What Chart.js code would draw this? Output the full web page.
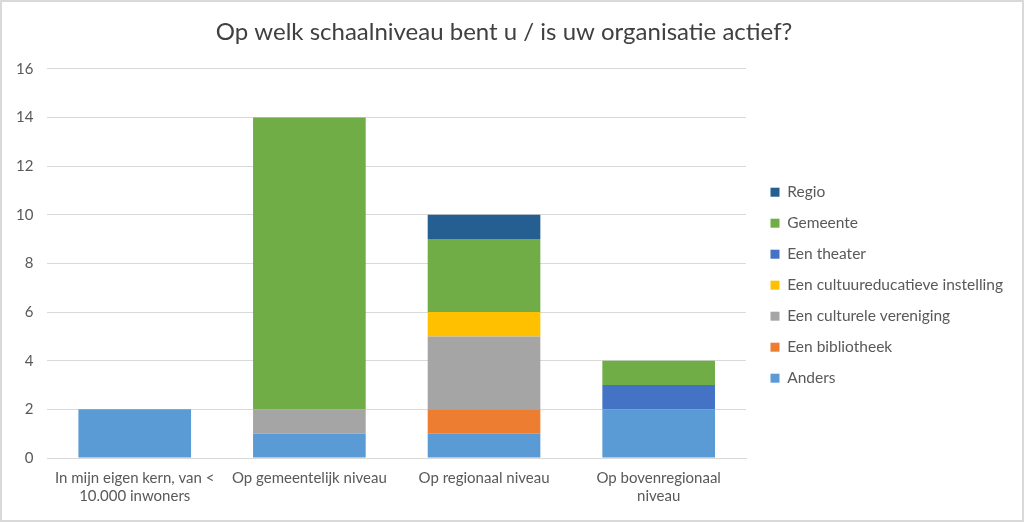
<!DOCTYPE html>
<html>
<head>
<meta charset="utf-8">
<script src="https://cdn.jsdelivr.net/npm/chart.js@4"></script>
<style>
  html, body { margin: 0; padding: 0; background: #fff; }
  #wrap { width: 1020px; height: 518px; border: 2px solid #d9d9d9; background: #fff; }
</style>
</head>
<body>
<div id="wrap"><canvas id="chart" width="1020" height="518"></canvas></div>
<script>
const categories = [
  ["In mijn eigen kern, van <", "10.000 inwoners"],
  "Op gemeentelijk niveau",
  "Op regionaal niveau",
  ["Op bovenregionaal", "niveau"]
];

const anders = [2, 1, 1, 2];
const bibliotheek = [0, 0, 1, 0];
const vereniging = [0, 1, 3, 0];
const cultuureducatief = [0, 0, 1, 0];
const theater = [0, 0, 0, 1];
const gemeente = [0, 12, 3, 1];
const regio = [0, 0, 1, 0];

const yTicks = [0, 2, 4, 6, 8, 10, 12, 14, 16];

const font = "Lato, 'Open Sans', sans-serif";
Chart.defaults.font.family = font;
Chart.defaults.color = "#595959";

function ds(label, data, color) {
  return { label: label, data: data, backgroundColor: color, borderWidth: 0,
           barPercentage: 1, categoryPercentage: 0.645 };
}

new Chart(document.getElementById("chart"), {
  type: "bar",
  data: {
    labels: categories,
    datasets: [
      ds("Anders", anders, "#5b9bd5"),
      ds("Een bibliotheek", bibliotheek, "#ed7d31"),
      ds("Een culturele vereniging", vereniging, "#a5a5a5"),
      ds("Een cultuureducatieve instelling", cultuureducatief, "#ffc000"),
      ds("Een theater", theater, "#4472c4"),
      ds("Gemeente", gemeente, "#70ad47"),
      ds("Regio", regio, "#255e91")
    ]
  },
  options: {
    responsive: false,
    animation: false,
    layout: { padding: { left: 0, right: 16, top: 6, bottom: 4 } },
    plugins: {
      title: {
        display: true,
        text: "Op welk schaalniveau bent u / is uw organisatie actief?",
        font: { size: 24, weight: "normal" },
        color: "#404040",
        padding: { top: 10, bottom: 22 }
      },
      legend: {
        position: "right",
        reverse: true,
        title: { display: true, text: " ", font: { size: 12 }, padding: { top: 16, bottom: 16 } },
        labels: {
          boxWidth: 9,
          boxHeight: 9,
          padding: 15.5,
          font: { size: 15.5 },
          color: "#595959"
        }
      },
      tooltip: { enabled: false }
    },
    scales: {
      x: {
        stacked: true,
        grid: { display: false, drawTicks: false },
        border: { color: "#d9d9d9" },
        ticks: { font: { size: 15 }, color: "#595959", padding: 11, maxRotation: 0, autoSkip: false }
      },
      y: {
        stacked: true,
        min: 0,
        max: 16,
        afterBuildTicks: (axis) => { axis.ticks = yTicks.map(v => ({ value: v })); },
        grid: { color: "#d9d9d9", drawTicks: false },
        border: { display: false },
        ticks: { font: { size: 15 }, color: "#595959", padding: 14 }
      },
      // hidden right-hand axis, only used as a gap before the legend
      gap: {
        type: "linear",
        position: "right",
        display: false,
        min: 0,
        max: 1,
        afterFit: (axis) => { axis.width = 9; }
      }
    }
  }
});
</script>
</body>
</html>
